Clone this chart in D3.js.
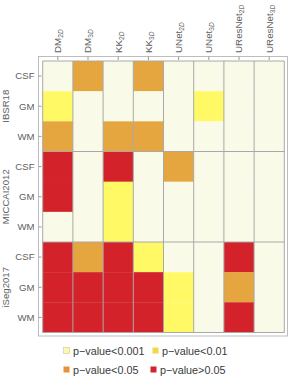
<!DOCTYPE html>
<html>
<head>
<meta charset="utf-8">
<script src="https://cdn.jsdelivr.net/npm/d3@7"></script>
<style>
  body { margin: 0; background: #fff; }
  svg { display: block; font-family: "Liberation Sans", Arial, sans-serif; }
</style>
</head>
<body>
<div id="chart"></div>
<script>
// column labels: base name + subscript dimension
var modelNames = ["DM", "DM", "KK", "KK", "UNet", "UNet", "UResNet", "UResNet"];
var modelDims = ["2", "3", "2", "3", "2", "3", "2", "3"];
var datasets = ["IBSR18", "MICCAI2012", "iSeg2017"];
var tissues = ["CSF", "GM", "WM"];
var levels = ["p\u2212value<0.001", "p\u2212value<0.01", "p\u2212value<0.05", "p\u2212value>0.05"];

// significance level per cell (0: <0.001, 1: <0.01, 2: <0.05, 3: >0.05), rows CSF/GM/WM
var pIBSR18 = [
  [0, 2, 0, 2, 0, 0, 0, 0],
  [1, 0, 0, 0, 0, 1, 0, 0],
  [2, 0, 2, 2, 0, 0, 0, 0]
];
var pMICCAI2012 = [
  [3, 0, 3, 0, 2, 0, 0, 0],
  [3, 0, 1, 0, 0, 0, 0, 0],
  [0, 0, 1, 0, 0, 0, 0, 0]
];
var pISeg2017 = [
  [3, 2, 3, 1, 0, 0, 3, 0],
  [3, 3, 3, 3, 1, 0, 2, 0],
  [3, 3, 3, 3, 1, 0, 3, 0]
];

var cellColors = ["#fafae8", "#fff966", "#e6a63f", "#d3222a"];
var swatchColors = ["#fbf8b0", "#efd84a", "#e8913a", "#d42231"];

var W = 291, H = 380;
var svg = d3.select("#chart").append("svg").attr("width", W).attr("height", H);

var cols = modelNames.map(function(d, i) { return i; });
var rows = [];
datasets.forEach(function(ds) {
  tissues.forEach(function(t) { rows.push(ds + "|" + t); });
});
var tables = [pIBSR18, pMICCAI2012, pISeg2017];
var cells = [];
tables.forEach(function(tab, g) {
  tab.forEach(function(r, ti) {
    r.forEach(function(v, c) {
      cells.push({ row: datasets[g] + "|" + tissues[ti], col: c, v: v });
    });
  });
});

var x = d3.scaleBand().domain(cols).range([42.7, 284.3]);
var y = d3.scaleBand().domain(rows).range([61, 332.5]);
var color = d3.scaleOrdinal().domain([0, 1, 2, 3]).range(cellColors);

// outer frame
svg.append("rect")
  .attr("x", 38.5).attr("y", 56.5).attr("width", 249).attr("height", 279.5)
  .attr("fill", "none").attr("stroke", "#bdbdbd").attr("stroke-width", 1);

// cells
svg.append("g").selectAll("rect")
  .data(cells)
  .enter().append("rect")
    .attr("x", function(d) { return x(d.col); })
    .attr("y", function(d) { return y(d.row); })
    .attr("width", x.bandwidth() + 0.3)
    .attr("height", y.bandwidth() + 0.3)
    .attr("fill", function(d) { return color(d.v); });

// mesh: vertical lines on every column, horizontal only between datasets
var mesh = svg.append("g").attr("stroke", "#a8a8a8").attr("stroke-width", 1);
d3.range(cols.length + 1).forEach(function(i) {
  var xx = i < cols.length ? x(i) : x.range()[1];
  mesh.append("line")
    .attr("x1", xx).attr("x2", xx)
    .attr("y1", y.range()[0]).attr("y2", y.range()[1]);
});
d3.range(datasets.length + 1).forEach(function(g) {
  var yy = g < datasets.length ? y(datasets[g] + "|" + tissues[0]) : y.range()[1];
  mesh.append("line")
    .attr("x1", x.range()[0]).attr("x2", x.range()[1])
    .attr("y1", yy).attr("y2", yy);
});

// top ticks + rotated column labels
var topAxis = svg.append("g");
cols.forEach(function(c) {
  var cx = x(c) + x.bandwidth() / 2;
  topAxis.append("line")
    .attr("x1", cx).attr("x2", cx).attr("y1", 56.5).attr("y2", 60)
    .attr("stroke", "#9a9a9a");
  var t = topAxis.append("text")
    .attr("transform", "translate(" + cx + ",53) rotate(-90)")
    .attr("dy", "0.35em")
    .attr("font-size", 9.8)
    .attr("fill", "#606060");
  t.append("tspan").text(modelNames[c]);
  t.append("tspan").attr("font-size", 6.6).attr("dy", "0.3em").text(modelDims[c]);
  t.append("tspan").attr("font-size", 6.6).attr("font-style", "italic").text("D");
});

// left ticks + tissue labels
var leftAxis = svg.append("g");
rows.forEach(function(r) {
  var cy = y(r) + y.bandwidth() / 2;
  leftAxis.append("line")
    .attr("x1", 38.5).attr("x2", 41.5).attr("y1", cy).attr("y2", cy)
    .attr("stroke", "#9a9a9a");
  leftAxis.append("text")
    .attr("x", 34.5).attr("y", cy).attr("dy", "0.35em")
    .attr("text-anchor", "end")
    .attr("font-size", 9.6).attr("fill", "#606060")
    .text(r.split("|")[1]);
});

// dataset group labels
datasets.forEach(function(ds) {
  var y0 = y(ds + "|" + tissues[0]);
  var y1 = y(ds + "|" + tissues[tissues.length - 1]) + y.bandwidth();
  svg.append("text")
    .attr("transform", "translate(6," + ((y0 + y1) / 2) + ") rotate(-90)")
    .attr("dy", "0.35em")
    .attr("text-anchor", "middle")
    .attr("font-size", 9.6).attr("fill", "#606060")
    .text(ds);
});

// legend, two per row (second column sits a bit further left on row two)
var legendX = [[63, 152], [63, 150]];
var legendY = [351, 370];
var legend = svg.append("g").selectAll("g")
  .data(levels)
  .enter().append("g")
    .attr("transform", function(d, i) {
      var r = Math.floor(i / 2);
      return "translate(" + legendX[r][i % 2] + "," + legendY[r] + ")";
    });
legend.append("rect")
  .attr("x", 0.5).attr("y", -3.5).attr("width", 6).attr("height", 6)
  .attr("fill", function(d, i) { return swatchColors[i]; })
  .attr("stroke", function(d, i) { return i === 0 ? "#c8c8a0" : "none"; })
  .attr("stroke-width", 0.6);
legend.append("text")
  .attr("x", 10).attr("dy", "0.35em")
  .attr("font-size", 10.8).attr("fill", "#3a3a3a")
  .text(function(d) { return d; });
</script>
</body>
</html>
